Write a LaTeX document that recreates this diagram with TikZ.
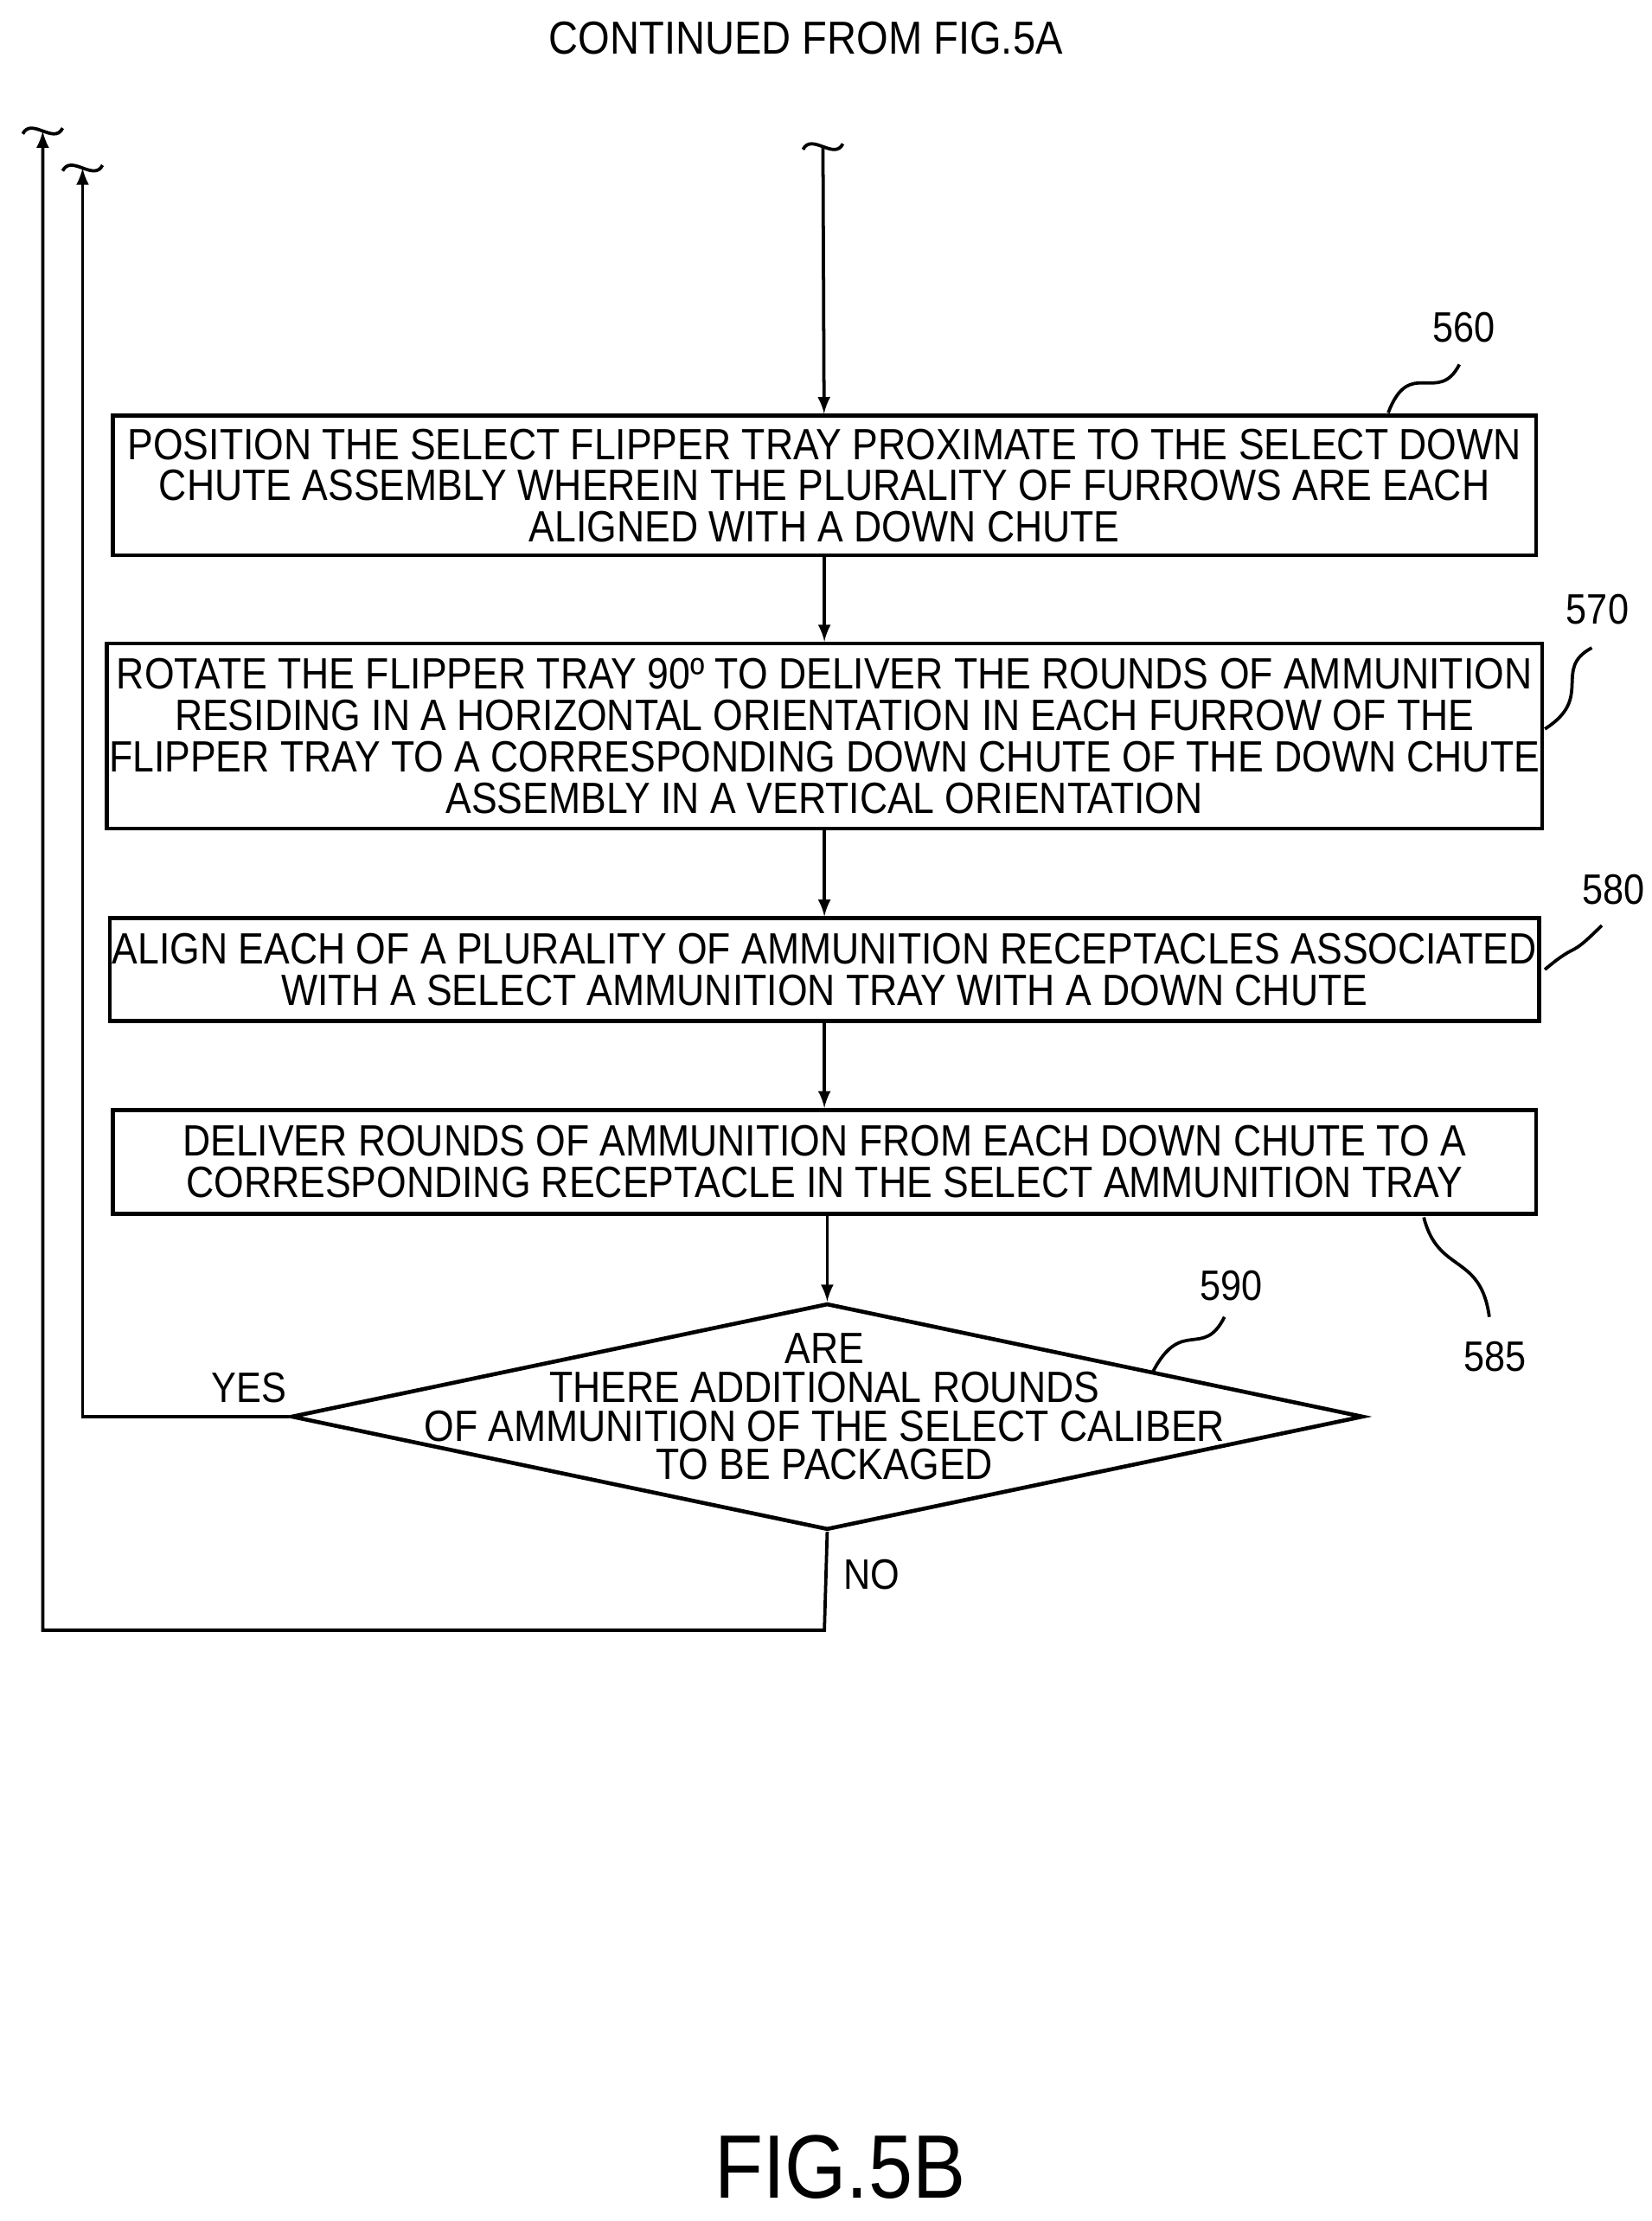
\documentclass[tikz,border=0pt]{standalone}
\usepackage{fontspec}
\setmainfont{Liberation Sans}[FakeStretch=0.88]
\usetikzlibrary{shapes.geometric,positioning}
\tikzset{
  procbox/.style={draw, line width=1.6pt, minimum width=20.0cm, align=center,
    inner sep=1pt, font=\fontsize{17.5}{16.5}\selectfont},
  flow/.style={line width=1.3pt, -latex},
  lead/.style={line width=1.3pt},
  tag/.style={font=\fontsize{17}{17}\selectfont}
}
\newcommand{\wiggle}[1]{\draw[lead] (#1) ++(-14,2) .. controls +(6,-12) and +(-6,12) .. ++(28,-4);}
\begin{document}
\begin{tikzpicture}[x=0.02cm,y=-0.02cm]
  \useasboundingbox (0,0) rectangle (1160,1560);
  \node[font=\fontsize{18.5}{18}\selectfont] (cont) at (566,27) {CONTINUED FROM FIG.5A};

  \node[procbox, minimum height=1.96cm] (s560) at (579,341) {POSITION THE SELECT FLIPPER TRAY PROXIMATE TO THE SELECT DOWN\\CHUTE ASSEMBLY WHEREIN THE PLURALITY OF FURROWS ARE EACH\\ALIGNED WITH A DOWN CHUTE};
  \node[procbox, minimum height=2.6cm] (s570) at (579,517) {ROTATE THE FLIPPER TRAY 90º TO DELIVER THE ROUNDS OF AMMUNITION\\RESIDING IN A HORIZONTAL ORIENTATION IN EACH FURROW OF THE\\FLIPPER TRAY TO A CORRESPONDING DOWN CHUTE OF THE DOWN CHUTE\\ASSEMBLY IN A VERTICAL ORIENTATION};
  \node[procbox, minimum height=1.44cm] (s580) at (579,681) {ALIGN EACH OF A PLURALITY OF AMMUNITION RECEPTACLES ASSOCIATED\\WITH A SELECT AMMUNITION TRAY WITH A DOWN CHUTE};
  \node[procbox, minimum height=1.46cm] (s585) at (579,816) {DELIVER ROUNDS OF AMMUNITION FROM EACH DOWN CHUTE TO A\\CORRESPONDING RECEPTACLE IN THE SELECT AMMUNITION TRAY};
  \node[diamond, draw, line width=1.6pt, aspect=4.74, minimum width=15.06cm, minimum height=3.18cm, inner sep=0pt] (d590) at (581,995) {};
  \node[align=center, font=\fontsize{17.5}{15.5}\selectfont] (q590) at (579,988) {ARE\\THERE ADDITIONAL ROUNDS\\OF AMMUNITION OF THE SELECT CALIBER\\TO BE PACKAGED};

  % flow
  \coordinate (top) at (578,103);
  \wiggle{top}
  \draw[flow] (top) -- (s560);
  \draw[flow] (s560) -- (s570);
  \draw[flow] (s570) -- (s580);
  \draw[flow] (s580) -- (s585);
  \draw[flow] (s585.south -| d590.north) -- (d590.north);
  \coordinate (yesend) at (58,118);
  \coordinate (noend) at (30,92);
  \coordinate (nocorner) at (579,1145);
  \draw[flow] (d590.west) -| (yesend);
  \draw[flow] (d590.south) -- (nocorner) -| (noend);
  \wiggle{yesend}
  \wiggle{noend}
  \node[tag] (yes) at (175,975) {YES};
  \node[tag] (no) at (612,1106) {NO};

  % reference numerals
  \node[tag] (n560) at (1028,230) {560};
  \draw[lead] (975,290) .. controls (990,250) and (1010,285) .. (1025,256);
  \node[tag] (n570) at (1122,428) {570};
  \draw[lead] (1085,512) .. controls (1120,490) and (1090,470) .. (1118,455);
  \node[tag] (n580) at (1133,625) {580};
  \draw[lead] (1085,681) .. controls (1110,660) and (1100,675) .. (1125,650);
  \node[tag] (n585) at (1050,953) {585};
  \draw[lead] (1000,855) .. controls (1010,895) and (1040,880) .. (1046,925);
  \node[tag] (n590) at (865,903) {590};
  \draw[lead] (810,963) .. controls (830,925) and (845,955) .. (860,925);

  \node[font=\fontsize{36}{36}\selectfont] (fig) at (590,1522) {FIG.5B};
\end{tikzpicture}
\end{document}
